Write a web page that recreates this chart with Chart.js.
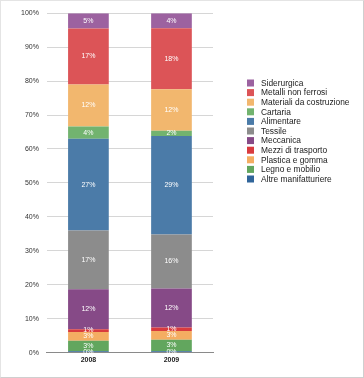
<!DOCTYPE html>
<html>
<head>
<meta charset="utf-8">
<script src="https://cdn.jsdelivr.net/npm/chart.js@4.4.1/dist/chart.umd.min.js"></script>
<style>
  html, body { margin: 0; padding: 0; background: #fff; }
  #frame {
    width: 364px; height: 378px; box-sizing: border-box;
    border: 1px solid #cfcfcf; border-left-color: #e4e4e4; border-top-color: #e4e4e4;
    position: relative;
  }
  #wrap { position: absolute; left: 0; top: 0; width: 362px; height: 376px; }
</style>
</head>
<body>
<div id="frame"><div id="wrap"><canvas id="myChart"></canvas></div></div>
<script>
// data (percent shares, bottom to top of stack)
const years = ['2008', '2009'];
const sectors = ['Altre manifatturiere', 'Legno e mobilio', 'Plastica e gomma', 'Mezzi di trasporto',
  'Meccanica', 'Tessile', 'Alimentare', 'Cartaria', 'Materiali da costruzione',
  'Metalli non ferrosi', 'Siderurgica'];
const altre = [0.4, 0.4];
const legno = [3.1, 3.4];
const plastica = [2.6, 2.6];
const mezzi = [0.8, 1.0];
const meccanica = [11.8, 11.5];
const tessile = [17.3, 15.9];
const alimentare = [27.0, 29.0];
const cartaria = [3.6, 1.6];
const materiali = [12.4, 12.2];
const metalli = [16.5, 18.0];
const siderurgica = [4.5, 4.4];
const yTicks = [0, 10, 20, 30, 40, 50, 60, 70, 80, 90, 100];

const series = [altre, legno, plastica, mezzi, meccanica, tessile, alimentare, cartaria, materiali, metalli, siderurgica];
const colors = ['#30659a', '#62a65e', '#f4ad62', '#d93b3e', '#864a87', '#8c8c8c',
  '#4b7ba8', '#72b36f', '#f2b76e', '#dc5457', '#9c62a0'];

const FONT = '"Liberation Sans", Arial, sans-serif';

// white percent labels inside each segment
const segLabels = {
  id: 'segLabels',
  afterDatasetsDraw(chart) {
    const ctx = chart.ctx;
    ctx.save();
    ctx.font = '7px ' + FONT;
    ctx.fillStyle = '#fff';
    ctx.textAlign = 'center';
    ctx.textBaseline = 'middle';
    chart.data.datasets.forEach((ds, i) => {
      chart.getDatasetMeta(i).data.forEach((bar, j) => {
        const mid = (bar.y + bar.base) / 2;
        ctx.fillText(Math.round(ds.data[j]) + '%', bar.x, mid);
      });
    });
    ctx.restore();
  }
};

// legend on the right, top item = top of stack
const sideLegend = {
  id: 'sideLegend',
  afterDraw(chart) {
    const ctx = chart.ctx;
    const x0 = chart.chartArea.right + 34;
    const y0 = 82;
    const step = 9.6;
    const list = chart.data.datasets.slice().reverse();
    ctx.save();
    ctx.font = '8.4px ' + FONT;
    ctx.textBaseline = 'middle';
    ctx.textAlign = 'left';
    list.forEach((ds, k) => {
      const y = y0 + k * step;
      ctx.fillStyle = ds.backgroundColor;
      ctx.fillRect(x0, y - 3.5, 7, 7);
      ctx.fillStyle = '#222';
      ctx.fillText(ds.label, x0 + 14, y + 0.5);
    });
    ctx.restore();
  }
};

const config = {
  type: 'bar',
  data: {
    labels: years,
    datasets: sectors.map((s, i) => ({
      label: s,
      data: series[i],
      backgroundColor: colors[i],
      borderWidth: 0,
      barPercentage: 0.98,
      categoryPercentage: 0.5
    }))
  },
  options: {
    responsive: true,
    maintainAspectRatio: false,
    animation: false,
    layout: { padding: { top: 0, bottom: 10, left: 12, right: 150 } },
    scales: {
      x: {
        stacked: true,
        grid: { display: false, drawTicks: false },
        border: { color: '#8a8a8a', width: 1 },
        ticks: { color: '#222', padding: 3, font: { size: 7, weight: 'bold', family: FONT } }
      },
      y: {
        stacked: true,
        min: 0,
        max: 100,
        afterBuildTicks: axis => { axis.ticks = yTicks.map(v => ({ value: v })); },
        grid: { color: '#d6d6d6', drawTicks: false },
        border: { display: false },
        ticks: {
          color: '#333', padding: 8,
          font: { size: 7, family: FONT },
          callback: v => v + '%'
        }
      }
    },
    plugins: {
      legend: { display: false },
      tooltip: { enabled: false }
    }
  },
  plugins: [segLabels, sideLegend]
};

const myChart = new Chart(document.getElementById('myChart'), config);
</script>
</body>
</html>
